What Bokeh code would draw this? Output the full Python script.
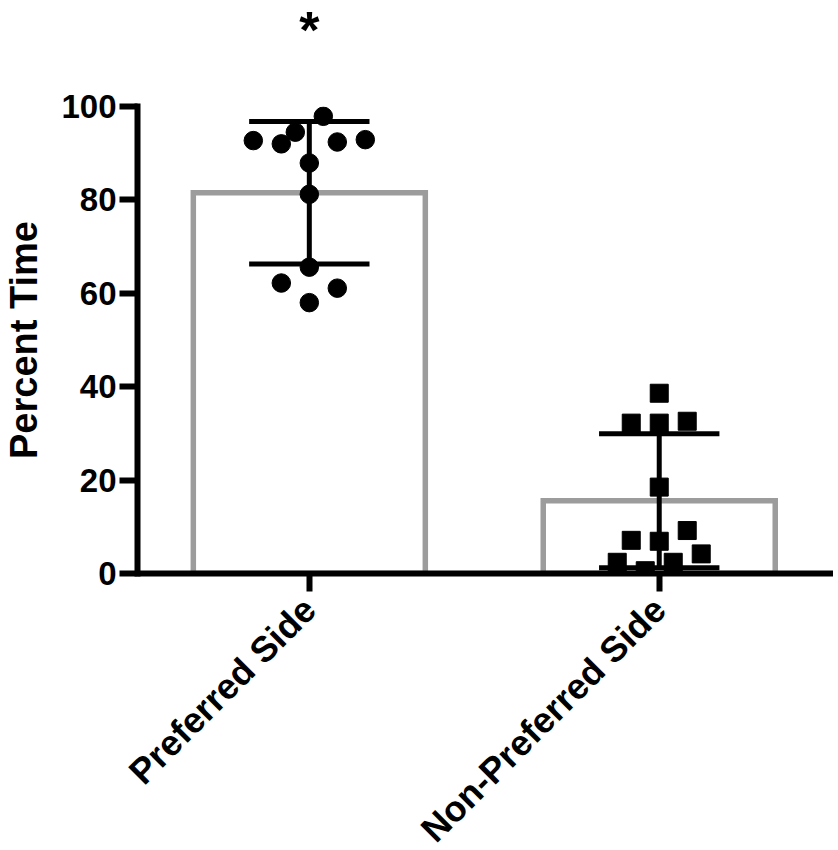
import math
import numpy as np
from bokeh.plotting import figure
from bokeh.layouts import column
from bokeh.models import Range1d, FixedTicker
from bokeh.core.properties import value
from bokeh.embed import file_html
from bokeh.resources import INLINE

# ---- data ----
categories = ["Preferred Side", "Non-Preferred Side"]
preferred = [97.9, 92.7, 92.0, 94.5, 92.4, 92.9, 87.9, 81.2, 65.6, 62.2, 61.1, 58.0]
non_preferred = [38.6, 32.2, 32.2, 32.6, 18.5, 9.2, 7.1, 6.9, 4.2, 2.4, 2.4, 0.6]
y_ticks = [0, 20, 40, 60, 80, 100]
significance_mark = "*"

# ---- layout (scatter spread of each point, in category units) ----
preferred_spread = [0.04, -0.16, -0.08, -0.04, 0.08, 0.16, 0.0, 0.0, 0.0, -0.08, 0.08, 0.0]
non_preferred_spread = [0.0, -0.08, 0.0, 0.08, 0.0, 0.08, -0.08, 0.0, 0.12, -0.12, 0.04, -0.04]

FONT = "Liberation Sans"
GREY = "#9c9c9c"
LEFT = 127

groups = [preferred, non_preferred]
xpos = [1, 2]
means = [float(np.mean(g)) for g in groups]
sds = [float(np.std(g, ddof=1)) for g in groups]

x_range = Range1d(0.509, 2.498)

# ---- strip above the plot carrying the significance mark ----
top = figure(frame_width=696, frame_height=81, x_range=x_range, y_range=Range1d(0, 1),
             output_backend="svg", toolbar_location=None,
             x_axis_location=None, y_axis_location=None,
             min_border_left=LEFT, min_border_right=0, min_border_top=0, min_border_bottom=0)
top.outline_line_color = None
top.xgrid.visible = False
top.ygrid.visible = False
top.background_fill_color = "white"
top.border_fill_color = "white"
top.text(x=[xpos[0]], y=[1], text=[significance_mark], text_font=value(FONT),
         text_font_style="bold", text_font_size="52px", text_align="center",
         text_baseline="top", text_color="black")

# ---- main plot ----
p = figure(frame_width=696, frame_height=467,
           x_range=x_range, y_range=Range1d(0, 100),
           output_backend="svg", toolbar_location=None,
           min_border_left=LEFT, min_border_right=0, min_border_top=25, min_border_bottom=0)

p.background_fill_color = "white"
p.border_fill_color = "white"
p.outline_line_color = None
p.xgrid.visible = False
p.ygrid.visible = False

# bars (mean)
p.vbar(x=xpos, top=means, bottom=0, width=0.663, fill_color="white",
       line_color=GREY, line_width=5.5, line_join="miter")

# error bars (mean +/- SD)
cap = 0.172
lo = [m - s for m, s in zip(means, sds)]
hi = [m + s for m, s in zip(means, sds)]
p.segment(x0=xpos, y0=lo, x1=xpos, y1=hi, line_color="black", line_width=5)
p.segment(x0=[x - cap for x in xpos], y0=hi, x1=[x + cap for x in xpos], y1=hi,
          line_color="black", line_width=5)
p.segment(x0=[x - cap for x in xpos], y0=lo, x1=[x + cap for x in xpos], y1=lo,
          line_color="black", line_width=5)

# points
p.scatter(x=[1 + d for d in preferred_spread], y=preferred, marker="circle",
          size=18.5, fill_color="black", line_color="black")
p.scatter(x=[2 + d for d in non_preferred_spread], y=non_preferred, marker="square",
          size=18, fill_color="black", line_color="black")

# axes
p.yaxis.ticker = FixedTicker(ticks=y_ticks)
p.yaxis.axis_label = "Percent Time"
p.yaxis.axis_label_text_font = FONT
p.yaxis.axis_label_text_font_style = "bold"
p.yaxis.axis_label_text_font_size = "38px"
p.yaxis.axis_label_text_color = "black"
p.yaxis.axis_label_standoff = 13
p.yaxis.major_label_text_font = FONT
p.yaxis.major_label_text_font_style = "bold"
p.yaxis.major_label_text_font_size = "33px"
p.yaxis.major_label_text_color = "black"
p.yaxis.major_label_standoff = 3
p.yaxis.axis_line_width = 6
p.yaxis.axis_line_cap = "square"
p.yaxis.major_tick_line_width = 6
p.yaxis.major_tick_out = 18
p.yaxis.major_tick_in = 0
p.yaxis.minor_tick_line_color = None

p.xaxis.ticker = FixedTicker(ticks=xpos)
p.xaxis.major_label_overrides = {x: c for x, c in zip(xpos, categories)}
p.xaxis.major_label_orientation = math.pi / 4
p.xaxis.major_label_text_font = FONT
p.xaxis.major_label_text_font_style = "bold"
p.xaxis.major_label_text_font_size = "36px"
p.xaxis.major_label_text_color = "black"
p.xaxis.major_label_standoff = 12
p.xaxis.axis_line_width = 6
p.xaxis.major_tick_line_width = 6
p.xaxis.major_tick_out = 18
p.xaxis.major_tick_in = 0
p.xaxis.minor_tick_line_color = None

layout = column(top, p, spacing=0)
open("out.html", "w").write(file_html(layout, INLINE))
